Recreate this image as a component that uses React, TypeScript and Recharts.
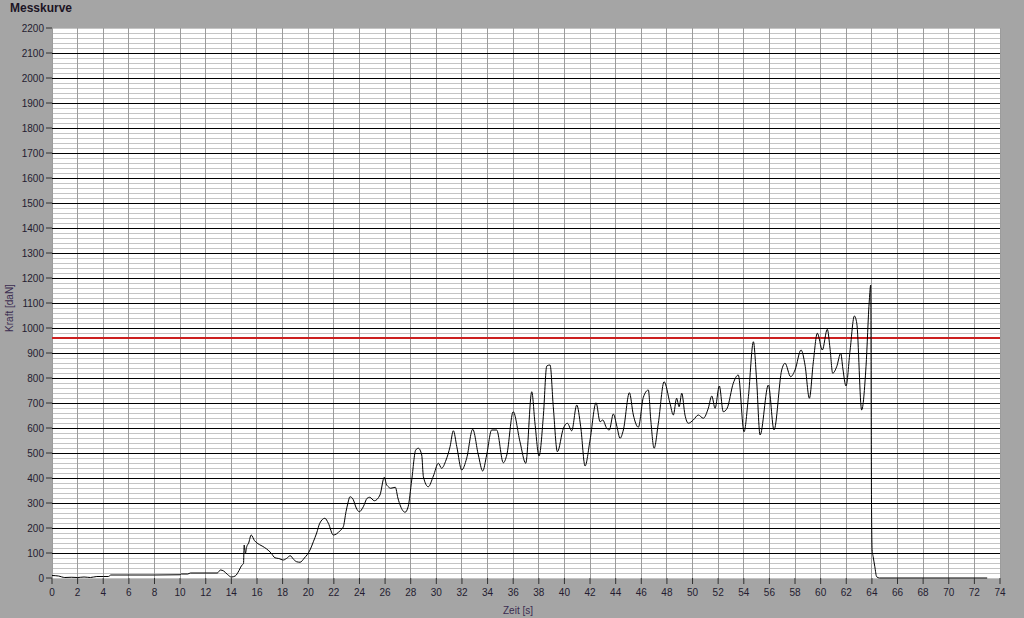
import {
  CartesianGrid,
  Line,
  LineChart,
  ReferenceLine,
  XAxis,
  YAxis,
} from "recharts";

// measured time stamps [s]
const zeit = [
  0, 0.5, 1.0, 1.5, 2.0, 2.5, 3.0, 3.5, 4.0, 4.4, 4.6, 6, 8, 10, 10.1, 10.6,
  10.8, 12.9, 13.15, 13.4, 13.7, 14.0, 14.3, 14.6, 14.8, 14.95, 15.0, 15.1,
  15.2, 15.35, 15.55, 15.8, 16.0, 16.4, 16.76, 17.1, 17.4, 17.7, 18.06, 18.3,
  18.6, 18.85, 19.1, 19.36, 19.7, 20.14, 20.4, 20.66, 20.9, 21.3, 21.57, 21.96,
  22.2, 22.5, 22.74, 22.95, 23.1, 23.26, 23.5, 23.75, 23.99, 24.3, 24.6, 24.8,
  25.16, 25.6, 25.94, 26.1, 26.25, 26.44, 26.8, 27.0, 27.2, 27.56, 27.8, 28.08,
  28.39, 28.6, 28.86, 28.99, 29.37, 29.77, 30.16, 30.41, 30.76, 31.07, 31.33,
  31.6, 31.98, 32.37, 32.84, 33.28, 33.62, 33.93, 34.32, 34.71, 35.23, 35.5,
  36.0, 36.53, 36.98, 37.45, 37.7, 38.02, 38.35, 38.62, 38.88, 39.13, 39.45,
  39.92, 40.23, 40.57, 40.96, 41.27, 41.61, 42.0, 42.47, 42.78, 42.99, 43.3,
  43.5, 43.82, 44.1, 44.34, 44.6, 45.07, 45.38, 45.77, 46.16, 46.55, 46.74,
  47.0, 47.33, 47.78, 48.24, 48.5, 48.76, 48.95, 49.16, 49.41, 49.67, 50.06,
  50.45, 50.84, 51.23, 51.5, 51.76, 52.09, 52.4, 52.7, 53.18, 53.57, 54.02,
  54.36, 54.75, 55.0, 55.27, 55.92, 56.36, 56.96, 57.22, 57.66, 58.0, 58.47,
  58.78, 59.12, 59.43, 59.74, 60.13, 60.52, 60.73, 60.94, 61.25, 61.57, 61.73,
  61.98, 62.3, 62.63, 62.82, 63.2, 63.54, 63.8, 63.91, 63.97, 64.02, 64.1,
  64.23, 64.37, 64.6, 73.0,
];

// measured force [daN]
const kraft = [
  10, 8, 2, 3, 2, 4, 2, 6, 6, 6, 12, 12, 12, 13, 16, 16, 20, 20, 32, 28, 14, 4,
  8, 30, 50, 58, 132, 100, 125, 140, 172, 150, 140, 128, 116, 100, 81, 78, 72,
  78, 89, 75, 65, 63, 80, 112, 145, 180, 219, 239, 219, 172, 176, 190, 205, 265,
  300, 325, 315, 280, 265, 285, 319, 323, 309, 332, 403, 375, 365, 359, 363,
  320, 288, 263, 285, 392, 512, 519, 492, 405, 365, 408, 459, 439, 472, 525,
  589, 525, 432, 479, 595, 492, 428, 492, 592, 592, 461, 492, 665, 545, 459,
  745, 619, 488, 645, 848, 852, 685, 505, 599, 619, 589, 692, 605, 448, 552,
  701, 625, 632, 599, 592, 656, 605, 559, 592, 741, 652, 603, 723, 752, 632,
  519, 619, 785, 699, 652, 719, 685, 739, 652, 619, 632, 652, 639, 679, 728,
  679, 768, 665, 679, 779, 812, 585, 725, 945, 792, 572, 772, 592, 832, 859,
  805, 832, 912, 852, 719, 865, 979, 912, 995, 919, 819, 845, 899, 839, 768,
  912, 1048, 1019, 672, 845, 1112, 1172, 300, 112, 85, 45, 5, 0, 0,
];

const grenzwert = 960;

const xTicks = Array.from({ length: 38 }, (_, i) => i * 2);
const yTicks = Array.from({ length: 23 }, (_, i) => i * 100);
const yMajor = yTicks.filter((v) => v > 0 && v < 2200);
const yMinor = Array.from({ length: 111 }, (_, i) => i * 20);

const data = zeit.map((t, i) => ({ t, f: kraft[i] }));

const textColor = "#241c30";
const font = "'Liberation Sans', Arial, sans-serif";

export default function App() {
  return (
    <div
      style={{
        position: "absolute",
        left: 0,
        top: 0,
        width: 1024,
        height: 618,
        background: "#a5a5a5",
        fontFamily: font,
      }}
    >
      <div
        style={{
          position: "absolute",
          left: 10,
          top: 1,
          fontSize: 12,
          fontWeight: "bold",
          color: "#1c1424",
        }}
      >
        Messkurve
      </div>
      <LineChart
        width={1024}
        height={618}
        data={data}
        margin={{ top: 28, right: 24, left: 0, bottom: 0 }}
        style={{ position: "absolute", left: 0, top: 0 }}
      >
        <CartesianGrid
          horizontalValues={yMinor}
          vertical={false}
          fill="#ffffff"
          fillOpacity={1}
          stroke="#c4c4c4"
          strokeWidth={1}
          shapeRendering="crispEdges"
        />
        <CartesianGrid
          verticalValues={xTicks}
          horizontal={false}
          stroke="#9c9c9c"
          strokeWidth={1}
          shapeRendering="crispEdges"
        />
        <CartesianGrid
          horizontalValues={yMajor}
          vertical={false}
          stroke="#000000"
          strokeWidth={1}
          shapeRendering="crispEdges"
        />
        <XAxis
          dataKey="t"
          type="number"
          domain={[0, 74]}
          ticks={xTicks}
          interval={0}
          height={40}
          axisLine={false}
          tickLine={{ stroke: "#303030" }}
          tickSize={6}
          tick={{ fill: textColor, fontSize: 10, fontFamily: font, dy: 3 }}
          label={{
            value: "Zeit [s]",
            position: "insideBottom",
            offset: 4,
            dx: -8,
            style: { fill: "#3a2c50", fontSize: 10, fontFamily: font },
          }}
        />
        <YAxis
          type="number"
          domain={[0, 2200]}
          ticks={yTicks}
          interval={0}
          width={52}
          axisLine={false}
          tickLine={{ stroke: "#303030" }}
          tickSize={6}
          tick={{ fill: textColor, fontSize: 10, fontFamily: font }}
          label={{
            value: "Kraft [daN]",
            angle: -90,
            position: "insideLeft",
            offset: 9,
            dy: 5,
            style: {
              textAnchor: "middle",
              fill: "#3a2c50",
              fontSize: 10,
              fontFamily: font,
            },
          }}
        />
        <ReferenceLine y={grenzwert} stroke="#cc2020" strokeWidth={2} />
        <Line
          dataKey="f"
          type="monotone"
          stroke="#000000"
          strokeWidth={1}
          dot={false}
          isAnimationActive={false}
        />
      </LineChart>
    </div>
  );
}
